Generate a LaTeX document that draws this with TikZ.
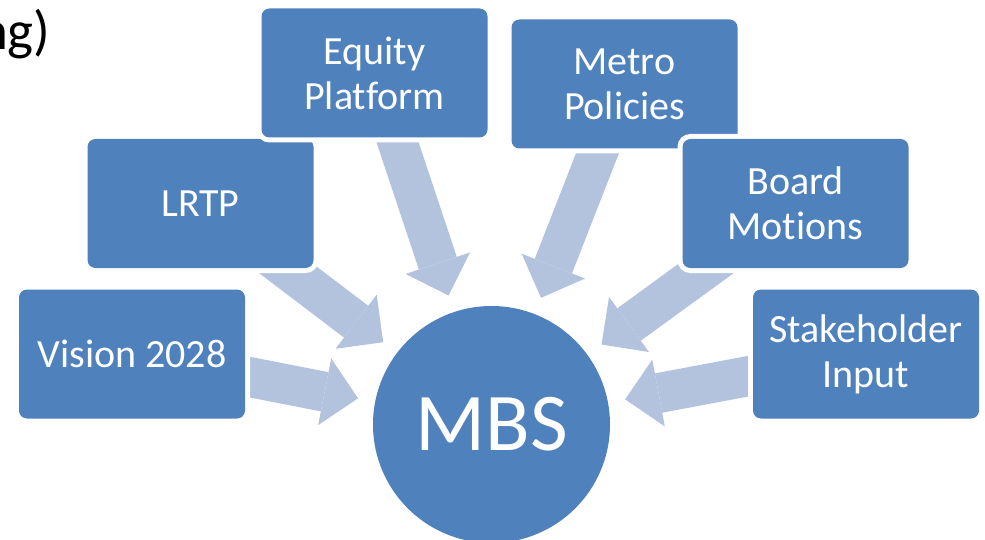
\documentclass[tikz,border=0pt]{standalone}
\usepackage{fontspec}
\setmainfont[Ligatures={NoCommon,NoContextual}]{Carlito}
\usetikzlibrary{arrows.meta, backgrounds}
\definecolor{boxblue}{HTML}{4F81BD}
\definecolor{feedblue}{HTML}{B3C3DE}
\tikzset{
    box/.style={rectangle, rounded corners=8pt, fill=boxblue, preaction={draw=white, line width=10pt}, minimum width=226pt, minimum height=129pt, inner sep=0pt, outer sep=0pt, align=center, text=white, font=\fontsize{40}{45}\selectfont}, % 方框的样式
    hub/.style={circle, fill=boxblue, minimum size=237pt, inner sep=0pt, outer sep=0pt, text=white, font=\fontsize{82}{90}\selectfont}, % 中心圆的样式
    feed/.style={draw=feedblue, line width=40pt, shorten >=17.5pt, -{Triangle[length=34pt, width=68pt, line width=0pt]}} % 块状箭头的样式
}
\begin{document}
\begin{tikzpicture}[x=1pt, y=-1pt]
            \def\W{985} \def\H{540}
            \useasboundingbox (0, 0) rectangle (\W, \H);
            \clip (0, 0) rectangle (\W, \H);

            \node[anchor=base east, font=\fontsize{55}{60}\selectfont] (title) at (54, 50) {ng)};

            \node[hub] (mbs) at (491.5, 424.5) {MBS};
            \node[box] (vision) at (132, 354) {Vision 2028};
            \node[box] (lrtp) at (200.5, 203.5) {LRTP};
            \node[box] (equity) at (374.5, 73) {Equity\\Plat\-form};
            \node[box] (metro) at (624.5, 84) {Metro\\Policies};
            \node[box] (board) at (795.5, 203.5) {Board\\Mo\-tions};
            \node[box] (stake) at (866, 354) {Stakeholder\\Input};

            \begin{pgfonlayer}{background}
                \foreach \src in {vision, lrtp, equity, metro, board, stake} {\draw[feed] (\src.center) -- (mbs);}
            \end{pgfonlayer}
        \end{tikzpicture}
\end{document}
